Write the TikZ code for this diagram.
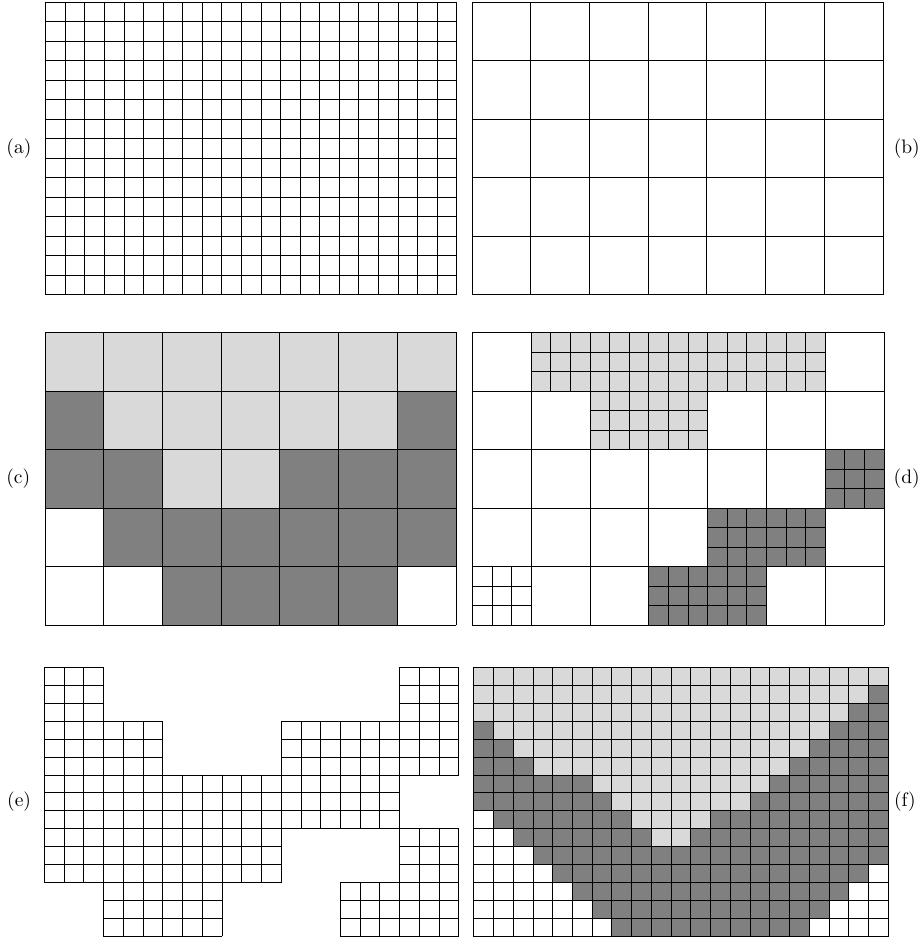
\documentclass[tikz,border=0pt]{standalone}
\usetikzlibrary{positioning}

\definecolor{lightfill}{RGB}{217,217,217}
\definecolor{darkfill}{RGB}{128,128,128}

% 粗セル (c, r) を 3x3 の細セルに分割して描く（細セル単位）
\newcommand{\subcells}[2]{%
    \foreach \k in {0,...,3} {
        \draw ({3*#1+\k},{3*#2}) -- ({3*#1+\k},{3*#2+3});
        \draw ({3*#1},{3*#2+\k}) -- ({3*#1+3},{3*#2+\k});
    }%
}

\begin{document}
\begin{tikzpicture}[
    x=1pt, y=-1pt,              % 1pt = 1px、y は下向き
    line width=0.8pt,
    line cap=rect,
    tag/.style={scale=1.95, inner sep=0pt},
    light/.style={fill=lightfill},
    dark/.style={fill=darkfill}
]
    \useasboundingbox (0,0) rectangle (920,940);

    % --- 1. (a) 細かい格子 ---
    \begin{scope}[shift={(45.7,2)}, xscale=19.57, yscale=19.5]
        \foreach \i in {0,...,21} \draw (\i,0) -- (\i,15);
        \foreach \j in {0,...,15} \draw (0,\j) -- (21,\j);
        \coordinate (pa) at (0,7.5);
    \end{scope}

    % --- 2. (b) 粗い格子 ---
    \begin{scope}[shift={(472,2)}, xscale=19.57, yscale=19.5]
        \foreach \i in {0,3,...,21} \draw (\i,0) -- (\i,15);
        \foreach \j in {0,3,...,15} \draw (0,\j) -- (21,\j);
        \coordinate (pb) at (21,7.5);
    \end{scope}

    % --- 3. (c) 粗い格子の塗り分け ---
    \begin{scope}[shift={(45,332.5)}, xscale=19.57, yscale=19.5]
        \foreach \r/\a/\b in {0/0/6, 1/1/5, 2/2/3}
            \fill[light] ({3*\a},{3*\r}) rectangle ({3*\b+3},{3*\r+3});
        \foreach \r/\a/\b in {1/0/0, 1/6/6, 2/0/1, 2/4/6, 3/1/6, 4/2/5}
            \fill[dark] ({3*\a},{3*\r}) rectangle ({3*\b+3},{3*\r+3});
        \foreach \i in {0,3,...,21} \draw (\i,0) -- (\i,15);
        \foreach \j in {0,3,...,15} \draw (0,\j) -- (21,\j);
        \coordinate (pc) at (0,7.5);
    \end{scope}

    % --- 4. (d) 界面付近だけ細分化 ---
    \begin{scope}[shift={(472.3,332.5)}, xscale=19.6, yscale=19.5]
        \foreach \i in {0,3,...,21} \draw (\i,0) -- (\i,15);
        \foreach \j in {0,3,...,15} \draw (0,\j) -- (21,\j);
        \foreach \c/\r/\f in {1/0/lightfill, 2/0/lightfill, 3/0/lightfill,
                              4/0/lightfill, 5/0/lightfill, 2/1/lightfill,
                              3/1/lightfill, 6/2/darkfill, 4/3/darkfill,
                              5/3/darkfill, 3/4/darkfill, 4/4/darkfill,
                              0/4/white} {
            \fill[\f] ({3*\c},{3*\r}) rectangle ({3*\c+3},{3*\r+3});
            \subcells{\c}{\r}
        }
        \coordinate (pd) at (21,7.5);
    \end{scope}

    % --- 5. (e) 細分化されたセルのみ ---
    \begin{scope}[shift={(44.3,667.5)}, xscale=19.74, yscale=17.9]
        \foreach \c/\r in {0/0, 6/0,
                           0/1, 1/1, 4/1, 5/1, 6/1,
                           0/2, 1/2, 2/2, 3/2, 4/2, 5/2,
                           0/3, 1/3, 2/3, 3/3, 6/3,
                           1/4, 2/4, 5/4, 6/4}
            \subcells{\c}{\r}
        \coordinate (pe) at (0,7.5);
    \end{scope}

    % --- 6. (f) 細かい格子の塗り分け ---
    \begin{scope}[shift={(473.7,667.5)}, xscale=19.74, yscale=17.9]
        \fill[dark] (0,0) rectangle (21,15);
        \foreach \r/\a/\b in {0/0/20, 1/0/19, 2/0/18, 3/1/17, 4/2/16,
                              5/3/15, 6/6/14, 7/7/13, 8/8/11, 9/9/10}
            \fill[light] (\a,\r) rectangle ({\b+1},{\r+1});
        \foreach \r/\a/\b in {8/0/0, 9/0/1, 10/0/2, 11/0/3, 11/20/20,
                              12/0/4, 12/19/20, 13/0/5, 13/18/20,
                              14/0/6, 14/17/20}
            \fill[white] (\a,\r) rectangle ({\b+1},{\r+1});
        \foreach \i in {0,...,21} \draw (\i,0) -- (\i,15);
        \foreach \j in {0,...,15} \draw (0,\j) -- (21,\j);
        \coordinate (pf) at (21,7.5);
    \end{scope}

    % --- 7. ラベル ---
    \node [left=13.5pt of pa, tag] (ta) {(a)};
    \node [right=10pt of pb, tag] (tb) {(b)};
    \node [left=14pt of pc, tag] (tc) {(c)};
    \node [right=9pt of pd, tag] (td) {(d)};
    \node [left=12.5pt of pe, tag] (te) {(e)};
    \node [right=5pt of pf, tag] (tf) {(f)};

\end{tikzpicture}
\end{document}
